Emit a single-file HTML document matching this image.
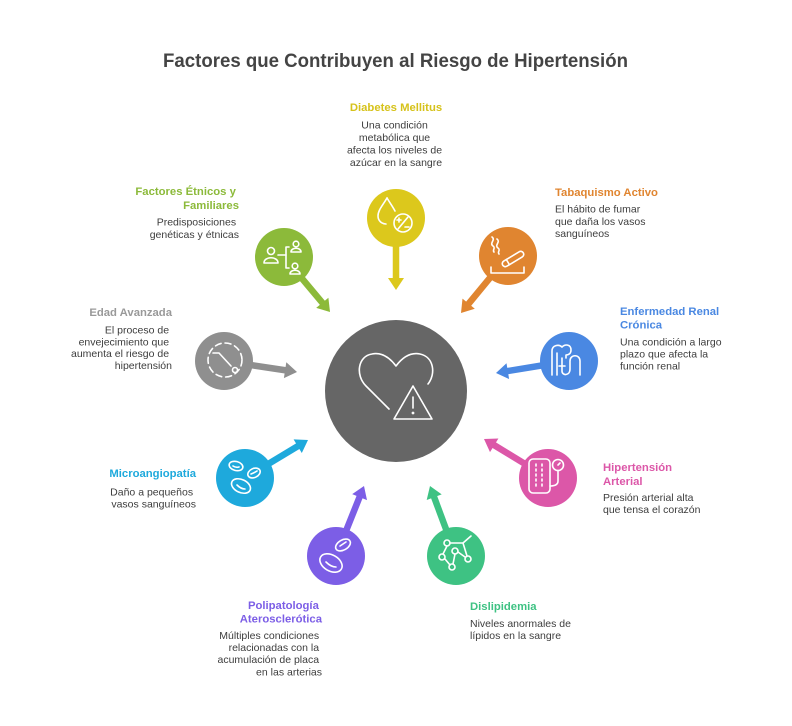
<!DOCTYPE html>
<html>
<head>
<meta charset="utf-8">
<style>
  html,body{margin:0;padding:0;background:#ffffff;}
  svg{display:block;}
  text{font-family:"Liberation Sans",Arial,sans-serif;}
  .t{font-weight:bold;font-size:11.3px;}
  .b{font-size:10.5px;fill:#3d3d3d;}
  .ic{fill:none;stroke:#ffffff;stroke-width:1.6;stroke-linecap:round;stroke-linejoin:round;}
</style>
</head>
<body>
<svg width="792" height="726" viewBox="0 0 792 726" xmlns="http://www.w3.org/2000/svg">
  <rect width="792" height="726" fill="#ffffff"/>

  <!-- Title -->
  <text x="395.5" y="67" text-anchor="middle" font-size="19" font-weight="bold" fill="#444444" textLength="465" lengthAdjust="spacingAndGlyphs">Factores que Contribuyen al Riesgo de Hipertensión</text>

  <!-- Connectors (shafts) -->
  <g stroke-width="6.5" stroke-linecap="butt">
    <line x1="396" y1="218" x2="396" y2="279" stroke="#dcc81c"/>
    <line x1="284" y1="257" x2="323" y2="303.6" stroke="#8cba3a"/>
    <line x1="508" y1="256" x2="468" y2="304.5" stroke="#e08530"/>
    <line x1="569" y1="361" x2="506.8" y2="371.2" stroke="#4a88e2"/>
    <line x1="224" y1="361" x2="286.1" y2="370.4" stroke="#8f8f8f"/>
    <line x1="245" y1="478" x2="298.6" y2="445.7" stroke="#1ea9dc"/>
    <line x1="548" y1="478" x2="493.4" y2="444.7" stroke="#dc57a8"/>
    <line x1="336" y1="556" x2="359.9" y2="496.2" stroke="#7c5ee6"/>
    <line x1="456" y1="556" x2="433.8" y2="496.3" stroke="#3ec283"/>
  </g>
  <!-- Arrowheads -->
  <polygon points="396,290 388,278 404,278" fill="#dcc81c"/>
  <polygon points="330,312 316.2,307.9 328.4,297.7" fill="#8cba3a"/>
  <polygon points="461,313 462.5,298.6 474.8,308.8" fill="#e08530"/>
  <polygon points="496,373 506.5,363.2 509.1,379" fill="#4a88e2"/>
  <polygon points="297,372 283.9,378.1 286.3,362.3" fill="#8f8f8f"/>
  <polygon points="308,440 301.8,453 293.6,439.4" fill="#1ea9dc"/>
  <polygon points="484,439 498.4,438.5 490,452.1" fill="#dc57a8"/>
  <polygon points="364,486 367,500.1 352.2,494.1" fill="#7c5ee6"/>
  <polygon points="430,486 441.7,494.4 426.7,500" fill="#3ec283"/>

  <!-- Center circle -->
  <circle cx="396" cy="391" r="71" fill="#666666"/>
  <g class="ic" stroke-width="1.5">
    <path d="M389,409 L366,386 C355,375 358,356 372,354 C382,352 390,358 396,366 C402,358 410,352 420,354 C434,357 436,374 428,384"/>
    <path d="M413,386 L432,419 L394,419 Z"/>
    <line x1="413" y1="397" x2="413" y2="408"/>
    <circle cx="413" cy="413" r="0.6"/>
  </g>

  <!-- Diabetes -->
  <circle cx="396" cy="218" r="29" fill="#dcc81c"/>
  <g transform="translate(396,218)" class="ic">
    <path d="M-9,-20 C-13,-13 -18,-8 -18,-2 C-18,3 -14,6 -10,6"/>
    <path d="M-9,-20 C-6,-15 -3,-11 -1,-7"/>
    <circle cx="7" cy="5" r="9"/>
    <line x1="2" y1="11" x2="12" y2="-1"/>
    <line x1="1" y1="2" x2="5" y2="2"/>
    <line x1="3" y1="0" x2="3" y2="4"/>
    <line x1="9" y1="9" x2="13" y2="9"/>
  </g>

  <!-- Factores Étnicos -->
  <circle cx="284" cy="257" r="29" fill="#8cba3a"/>
  <g transform="translate(284,257)" class="ic">
    <circle cx="-13" cy="-6" r="3.5"/>
    <path d="M-20,6 C-20,-1 -6,-1 -6,6 Z"/>
    <line x1="-6" y1="-2" x2="2" y2="-2"/>
    <path d="M5,-10 H2 V11 H5"/>
    <circle cx="12" cy="-13" r="2.8"/>
    <path d="M7,-5 C7,-10 17,-10 17,-5 Z"/>
    <circle cx="11" cy="9" r="2.8"/>
    <path d="M6,17 C6,12 16,12 16,17 Z"/>
  </g>

  <!-- Tabaquismo -->
  <circle cx="508" cy="256" r="29" fill="#e08530"/>
  <g transform="translate(508,256)" class="ic">
    <path d="M-16,-19 C-12,-16 -19,-13 -15,-10 C-12,-8 -16,-6 -14,-4"/>
    <path d="M-11,-17 C-7,-14 -14,-11 -10,-8 C-7,-6 -11,-4 -9,-2"/>
    <g transform="translate(5,3) rotate(-31)">
      <rect x="-12" y="-3" width="24" height="6" rx="3"/>
      <line x1="-6" y1="-3" x2="-6" y2="3"/>
    </g>
    <path d="M-17,11 V17 H16 V11"/>
  </g>

  <!-- Enfermedad Renal -->
  <circle cx="569" cy="361" r="29" fill="#4a88e2"/>
  <g transform="translate(569,361)" class="ic">
    <path d="M-17,14 V-10 C-17,-16 -10,-17 -7,-14 C-4,-17 2,-17 2,-11 C2,-7 -1,-6 -3,-6 V-3"/>
    <path d="M-12,14 V-8"/>
    <path d="M-7,-3 V10 C-7,15 1,15 1,8 V0 C1,-7 11,-7 11,0 V14"/>
    <line x1="-10" y1="5" x2="-4" y2="5"/>
  </g>

  <!-- Edad Avanzada -->
  <circle cx="224" cy="361" r="29" fill="#8f8f8f"/>
  <g transform="translate(224,361)" class="ic">
    <circle cx="1" cy="-1" r="17" stroke-dasharray="6 4"/>
    <path d="M-11,-8 H-5 L7,5"/>
    <circle cx="11" cy="9" r="2.5"/>
  </g>

  <!-- Microangiopatía -->
  <circle cx="245" cy="478" r="29" fill="#1ea9dc"/>
  <g transform="translate(245,478)" class="ic">
    <ellipse cx="-9" cy="-12" rx="7" ry="4.5" transform="rotate(15 -9 -12)"/>
    <path d="M-12,-12 Q-9,-10 -6,-11"/>
    <ellipse cx="9" cy="-5" rx="6.5" ry="4.5" transform="rotate(-25 9 -5)"/>
    <path d="M6,-4 Q9,-5 12,-7"/>
    <ellipse cx="-4" cy="8" rx="10" ry="6.5" transform="rotate(25 -4 8)"/>
    <path d="M-8,7 Q-4,11 0,11"/>
  </g>

  <!-- Hipertensión Arterial -->
  <circle cx="548" cy="478" r="29" fill="#dc57a8"/>
  <g transform="translate(548,478)" class="ic">
    <rect x="-19" y="-19" width="21" height="34" rx="4"/>
    <line x1="-12" y1="-14" x2="-12" y2="11" stroke-dasharray="2 3"/>
    <line x1="-6" y1="-14" x2="-6" y2="11" stroke-dasharray="2 3"/>
    <circle cx="10" cy="-13" r="5.5"/>
    <line x1="10" y1="-13" x2="12" y2="-15"/>
    <path d="M10,-7.5 V3 C10,7 6,8 2,8"/>
  </g>

  <!-- Polipatología -->
  <circle cx="336" cy="556" r="29" fill="#7c5ee6"/>
  <g transform="translate(336,556)" class="ic">
    <ellipse cx="7" cy="-11" rx="8" ry="5" transform="rotate(-30 7 -11)"/>
    <path d="M4,-10 Q7,-12 10,-14"/>
    <ellipse cx="-5" cy="7" rx="12" ry="8" transform="rotate(30 -5 7)"/>
    <path d="M-10,6 Q-5,11 0,11"/>
  </g>

  <!-- Dislipidemia -->
  <circle cx="456" cy="556" r="29" fill="#3ec283"/>
  <g transform="translate(456,556)" class="ic">
    <path d="M-6,-13 H7 L15,-20"/>
    <path d="M7,-13 L11,0"/>
    <line x1="-9" y1="-10" x2="-13" y2="-2"/>
    <line x1="-11" y1="3" x2="-6" y2="9"/>
    <line x1="-3" y1="8" x2="-1" y2="-2"/>
    <line x1="2" y1="-4" x2="9" y2="1"/>
    <circle cx="-9" cy="-13" r="3"/>
    <circle cx="-1" cy="-5" r="3"/>
    <circle cx="-14" cy="1" r="3"/>
    <circle cx="12" cy="3" r="3"/>
    <circle cx="-4" cy="11" r="3"/>
  </g>

  <!-- Labels -->
  <!-- Diabetes -->
  <text class="t" x="396" y="111" text-anchor="middle" fill="#d6c21a">Diabetes Mellitus</text>
  <text class="b" text-anchor="middle">
    <tspan x="396" y="128.7">Una condición</tspan>
    <tspan x="396" y="141">metabólica que</tspan>
    <tspan x="396" y="153.5">afecta los niveles de</tspan>
    <tspan x="396" y="165.8">azúcar en la sangre</tspan>
  </text>

  <!-- Factores Étnicos -->
  <text class="t" text-anchor="end" fill="#8cba3a">
    <tspan x="239" y="195">Factores Étnicos y</tspan>
    <tspan x="239" y="209">Familiares</tspan>
  </text>
  <text class="b" text-anchor="end">
    <tspan x="239" y="225.5">Predisposiciones</tspan>
    <tspan x="239" y="237.8">genéticas y étnicas</tspan>
  </text>

  <!-- Tabaquismo -->
  <text class="t" x="555" y="196" fill="#e08530">Tabaquismo Activo</text>
  <text class="b">
    <tspan x="555" y="212.7">El hábito de fumar</tspan>
    <tspan x="555" y="225">que daña los vasos</tspan>
    <tspan x="555" y="237">sanguíneos</tspan>
  </text>

  <!-- Enfermedad Renal -->
  <text class="t" fill="#4a88e2">
    <tspan x="620" y="315">Enfermedad Renal</tspan>
    <tspan x="620" y="328.5">Crónica</tspan>
  </text>
  <text class="b">
    <tspan x="620" y="345.7">Una condición a largo</tspan>
    <tspan x="620" y="357.5">plazo que afecta la</tspan>
    <tspan x="620" y="369.5">función renal</tspan>
  </text>

  <!-- Edad Avanzada -->
  <text class="t" x="172" y="316" text-anchor="end" fill="#999999">Edad Avanzada</text>
  <text class="b" text-anchor="end">
    <tspan x="172" y="333.7">El proceso de</tspan>
    <tspan x="172" y="345.5">envejecimiento que</tspan>
    <tspan x="172" y="357.2">aumenta el riesgo de</tspan>
    <tspan x="172" y="369">hipertensión</tspan>
  </text>

  <!-- Microangiopatía -->
  <text class="t" x="196" y="477" text-anchor="end" fill="#1ea9dc">Microangiopatía</text>
  <text class="b" text-anchor="end">
    <tspan x="196" y="495.7">Daño a pequeños</tspan>
    <tspan x="196" y="507.3">vasos sanguíneos</tspan>
  </text>

  <!-- Hipertensión Arterial -->
  <text class="t" fill="#dc57a8">
    <tspan x="603" y="471">Hipertensión</tspan>
    <tspan x="603" y="485">Arterial</tspan>
  </text>
  <text class="b">
    <tspan x="603" y="501">Presión arterial alta</tspan>
    <tspan x="603" y="513">que tensa el corazón</tspan>
  </text>

  <!-- Dislipidemia -->
  <text class="t" x="470" y="610" fill="#3ec283">Dislipidemia</text>
  <text class="b">
    <tspan x="470" y="627">Niveles anormales de</tspan>
    <tspan x="470" y="639">lípidos en la sangre</tspan>
  </text>

  <!-- Polipatología -->
  <text class="t" text-anchor="end" fill="#7c5ee6">
    <tspan x="322" y="609">Polipatología</tspan>
    <tspan x="322" y="622.5">Aterosclerótica</tspan>
  </text>
  <text class="b" text-anchor="end">
    <tspan x="322" y="639">Múltiples condiciones</tspan>
    <tspan x="322" y="651">relacionadas con la</tspan>
    <tspan x="322" y="663">acumulación de placa</tspan>
    <tspan x="322" y="675.5">en las arterias</tspan>
  </text>
</svg>
</body>
</html>
